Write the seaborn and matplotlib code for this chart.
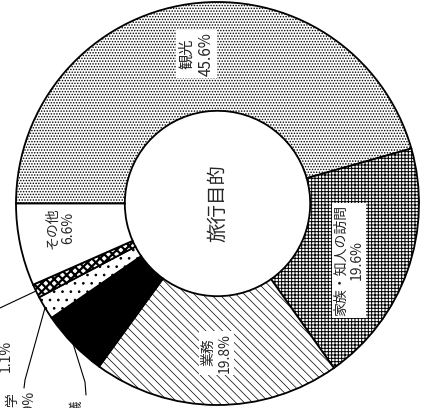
import matplotlib
matplotlib.use("Agg")
import numpy as np
import seaborn as sns
import matplotlib.pyplot as plt

# データ (旅行目的の構成比)
purposes = ["観光", "家族・知人の訪問", "業務", "国際会議", "留学", "研修", "その他"]
shares = [45.6, 19.6, 19.8, 5.4, 1.9, 1.1, 6.6]
patterns = ["......", "+++++", "\\\\\\\\", None, "..", "xxxx", None]
fills = ["white", "white", "white", "black", "white", "white", "white"]
center_title = "旅行目的"

sns.set_theme(style="white")
plt.rcParams["font.family"] = ["Noto Sans CJK JP", "DejaVu Sans"]
plt.rcParams["hatch.linewidth"] = 0.7

# 画像の大きさと円の位置 (ピクセル)
W, H = 426, 408
cx, cy, R = 217.5, 203.5, 201.5


def px(x, y):
    return (x - cx) / R, (cy - y) / R


fig = plt.figure(figsize=(W / 100, H / 100), dpi=100)
ax = fig.add_axes([0, 0, 1, 1])
wedges, _ = ax.pie(shares, colors=fills, hatch=patterns, startangle=180,
                   counterclock=False, radius=1,
                   wedgeprops=dict(width=0.54, edgecolor="black", linewidth=1.3))
ax.set_xlim(-cx / R, (W - cx) / R)
ax.set_ylim(-(H - cy) / R, cy / R)
ax.axis("off")

# 線の太さを模様ごとに (使えるときだけ)
if hasattr(wedges[0], "set_hatch_linewidth"):
    wedges[2].set_hatch_linewidth(0.5)
    wedges[5].set_hatch_linewidth(1.6)


def mid_angle(w):
    return np.deg2rad((w.theta1 + w.theta2) / 2)


# 内側のラベル
inner = {0: (0.75, 0, 11), 1: (0.71, -4, 10), 2: (0.74, 0, 10), 6: (0.79, -3, 10)}
for i, (r, shift, fs) in inner.items():
    a = mid_angle(wedges[i]) + np.deg2rad(shift)
    box = None if i == 6 else dict(facecolor="white", edgecolor="none", pad=1.5)
    ax.text(r * np.cos(a), r * np.sin(a), f"{purposes[i]}\n{shares[i]}%",
            rotation=90, ha="center", va="center", fontsize=fs,
            linespacing=1.2, bbox=box)

# 外側のラベル (引き出し線つき)
outer = {
    3: ([px(85, 382), px(86, 395)], px(84, 398), "top"),
    4: ([px(25, 380), px(24, 388)], px(21, 390), "top"),
    5: ([px(-15, 315)], px(-2, 356), "center"),
}
for i, (pts, tpos, va) in outer.items():
    a = mid_angle(wedges[i])
    xs = [np.cos(a)] + [p[0] for p in pts]
    ys = [np.sin(a)] + [p[1] for p in pts]
    ax.plot(xs, ys, color="black", linewidth=0.8, clip_on=False)
    ax.text(tpos[0], tpos[1], f"{purposes[i]}\n{shares[i]}%", rotation=90,
            ha="center", va=va, fontsize=10, linespacing=1.2)

ax.text(0, 0, center_title, rotation=90, ha="center", va="center", fontsize=14)

fig.savefig("out.png", dpi=100)
